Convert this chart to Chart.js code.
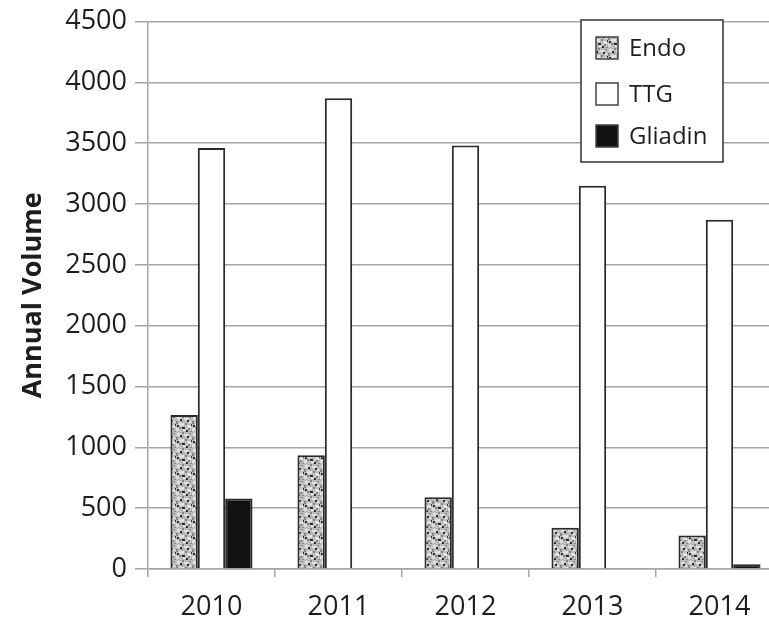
<!DOCTYPE html>
<html>
<head>
<meta charset="utf-8">
<script src="https://cdn.jsdelivr.net/npm/chart.js@4/dist/chart.umd.min.js"></script>
<style>
  html, body { margin: 0; padding: 0; background: #fff; overflow: hidden; }
  #wrap { position: absolute; left: 0; top: 0; width: 790px; height: 621px; }
</style>
</head>
<body>
<div id="wrap"><canvas id="c" width="790" height="621"></canvas></div>
<script>
// Annual test volumes by year
const years = ['2010', '2011', '2012', '2013', '2014'];
const endoVolume = [1265, 935, 590, 340, 275];
const ttgVolume = [3460, 3870, 3480, 3150, 2870];
const gliadinVolume = [580, 0, 0, 5, 40];
const yTicks = [0, 500, 1000, 1500, 2000, 2500, 3000, 3500, 4000, 4500];

const FONT = '"Open Sans", "Liberation Sans", sans-serif';
const INK = '#1e1e1e';
const GRID = '#a6a6a6';

// Mottled grey fill for the Endo bars
function speckle() {
  const s = 16;
  const c = document.createElement('canvas');
  c.width = s; c.height = s;
  const g = c.getContext('2d');
  g.fillStyle = '#bdbdbd';
  g.fillRect(0, 0, s, s);
  g.fillStyle = '#e0e0e0';
  [[1,1,4,3],[8,2,4,2],[3,7,5,3],[11,9,4,3],[0,12,3,3],[7,13,3,2],[13,5,2,2]]
    .forEach(([x, y, w, h]) => g.fillRect(x, y, w, h));
  g.fillStyle = '#858585';
  [[6,0,2,2],[13,1,2,1],[0,5,2,3],[9,7,2,2],[5,5,2,1],[12,12,2,2],[3,11,2,2],[14,15,2,1]]
    .forEach(([x, y, w, h]) => g.fillRect(x, y, w, h));
  g.fillStyle = '#2e2e2e';
  [[4,3,2,2],[11,4,2,2],[1,9,2,2],[6,11,3,2],[10,14,2,2],[15,8,1,2]]
    .forEach(([x, y, w, h]) => g.fillRect(x, y, w, h));
  return g.createPattern(c, 'repeat');
}

const ctx = document.getElementById('c').getContext('2d');
const endoFill = speckle();

// Boxed legend drawn inside the plot, top right
const boxLegend = {
  id: 'boxLegend',
  afterDraw(chart) {
    const g = chart.ctx;
    const x0 = 581, y0 = 20, w = 142, h = 142;
    g.save();
    g.fillStyle = '#fff';
    g.fillRect(x0, y0, w, h);
    g.strokeStyle = '#333';
    g.lineWidth = 1.5;
    g.strokeRect(x0, y0, w, h);
    const rows = [48, 94, 136];
    chart.data.datasets.forEach((ds, i) => {
      const cy = rows[i];
      g.fillStyle = ds.backgroundColor;
      g.fillRect(596, cy - 11, 22, 22);
      g.strokeStyle = '#444';
      g.lineWidth = 1.5;
      g.strokeRect(596, cy - 11, 22, 22);
      g.fillStyle = INK;
      g.font = '24px ' + FONT;
      g.textBaseline = 'middle';
      g.textAlign = 'left';
      g.fillText(ds.label, 629, cy + 1);
    });
    g.restore();
  }
};

const barCommon = {
  borderColor: '#2a2a2a',
  borderWidth: 2,
  borderSkipped: 'bottom',
  barPercentage: 1.0,
  categoryPercentage: 0.646
};

new Chart(ctx, {
  type: 'bar',
  data: {
    labels: years,
    datasets: [
      Object.assign({ label: 'Endo', data: endoVolume, backgroundColor: endoFill }, barCommon),
      Object.assign({ label: 'TTG', data: ttgVolume, backgroundColor: '#ffffff' }, barCommon),
      Object.assign({ label: 'Gliadin', data: gliadinVolume, backgroundColor: '#111111' }, barCommon)
    ]
  },
  options: {
    responsive: false,
    animation: false,
    layout: { padding: { top: 20, right: 7, left: 0, bottom: 0 } },
    plugins: { legend: { display: false }, tooltip: { enabled: false } },
    scales: {
      x: {
        offset: true,
        grid: { offset: true, drawOnChartArea: false, drawTicks: true, tickLength: 8, color: GRID, lineWidth: 1.5 },
        border: { color: GRID, width: 1.5 },
        ticks: { color: INK, font: { family: FONT, size: 27 }, padding: 14, maxRotation: 0 },
        afterFit(s) { s.height = 52; }
      },
      y: {
        min: 0,
        max: 4500,
        afterBuildTicks(s) { s.ticks = yTicks.map(v => ({ value: v })); },
        grid: { color: GRID, lineWidth: 1.5, tickLength: 13 },
        border: { color: GRID, width: 1.5 },
        ticks: { color: INK, font: { family: FONT, size: 27, lineHeight: 1 }, padding: 8, callback: v => String(v) },
        title: {
          display: true,
          text: 'Annual Volume',
          color: INK,
          font: { family: FONT, size: 27, weight: 'bold' },
          padding: { top: 17, bottom: 0 }
        },
        afterFit(s) { s.width = 148; }
      }
    }
  },
  plugins: [boxLegend]
});
</script>
</body>
</html>
